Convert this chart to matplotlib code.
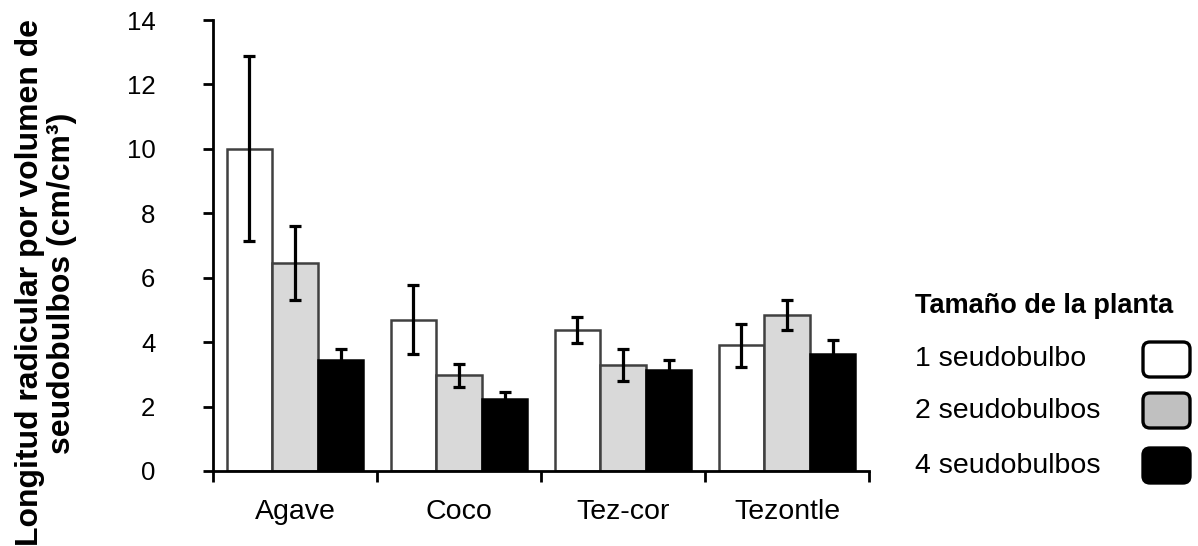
import matplotlib
matplotlib.use("Agg")
import matplotlib.pyplot as plt
import numpy as np
from matplotlib.patches import FancyBboxPatch
from matplotlib.transforms import IdentityTransform

plt.rcParams['font.family'] = ['Liberation Sans', 'DejaVu Sans']

categories = ["Agave", "Coco", "Tez-cor", "Tezontle"]
series_names = ["1 seudobulbo", "2 seudobulbos", "4 seudobulbos"]
one = [10.0, 4.70, 4.37, 3.90]
one_err = [2.87, 1.08, 0.41, 0.66]
two = [6.47, 2.97, 3.28, 4.84]
two_err = [1.15, 0.35, 0.50, 0.47]
four = [3.44, 2.25, 3.13, 3.62]
four_err = [0.36, 0.20, 0.31, 0.46]
yticks = [0, 2, 4, 6, 8, 10, 12, 14]

W, H = 1198, 546
fig = plt.figure(figsize=(W / 100, H / 100), dpi=100)
ax = fig.add_axes([213 / W, 1 - 471 / H, (869 - 213) / W, (471 - 20) / H])

x = np.arange(len(categories))
bw = 0.278
fills = ["white", "#d9d9d9", "black"]
edges = ["#404040", "#404040", "black"]
vals = [one, two, four]
errs = [one_err, two_err, four_err]
for i, (v, e) in enumerate(zip(vals, errs)):
    pos = x + (i - 1) * bw
    ax.bar(pos, v, width=bw, color=fills[i], edgecolor=edges[i], linewidth=1.8, zorder=2)
    ax.errorbar(pos, v, yerr=e, fmt="none", ecolor="black", elinewidth=2.3,
                capsize=4.0, capthick=2.3, zorder=3)

ax.set_xlim(-0.5, 3.5)
ax.set_ylim(0, 14)
ax.set_yticks(yticks)
ax.set_yticklabels([str(t) for t in yticks])
ax.set_xticks(np.arange(-0.5, 3.6, 1.0))
ax.set_xticklabels([])
ax.set_xticks(x, minor=True)
ax.set_xticklabels(categories, minor=True, fontsize=20.5)
ax.tick_params(axis="x", which="minor", length=0, pad=20)
ax.tick_params(axis="x", which="major", length=8, width=2, direction="out")
ax.tick_params(axis="y", length=7.5, width=2, direction="out", pad=34, labelsize=18.5)
for s in ["top", "right"]:
    ax.spines[s].set_visible(False)
for s in ["left", "bottom"]:
    ax.spines[s].set_linewidth(2)
    ax.spines[s].set_color("black")

fig.text(46 / W, 1 - 283 / H,
         "Longitud radicular por volumen de\nseudobulbos (cm/cm³)",
         rotation=90, ha="center", va="center", fontsize=23, fontweight="bold",
         multialignment="center", linespacing=1.1)

# legend
fig.text(915 / W, 1 - 313 / H, "Tamaño de la planta", fontsize=19.5,
         fontweight="bold", ha="left", va="baseline")
baselines = [366, 418, 473]
box_tops = [342, 393, 448]
leg_fill = ["white", "#c0c0c0", "black"]
for name, bl, bt, fc in zip(series_names, baselines, box_tops, leg_fill):
    fig.text(915 / W, 1 - bl / H, name, fontsize=20.5, ha="left", va="baseline")
    p = FancyBboxPatch((1143, H - bt - 35), 47, 35,
                       boxstyle="round,pad=0,rounding_size=7",
                       facecolor=fc, edgecolor="black", linewidth=2.4,
                       transform=IdentityTransform())
    fig.add_artist(p)

fig.savefig("out.png", dpi=100)
